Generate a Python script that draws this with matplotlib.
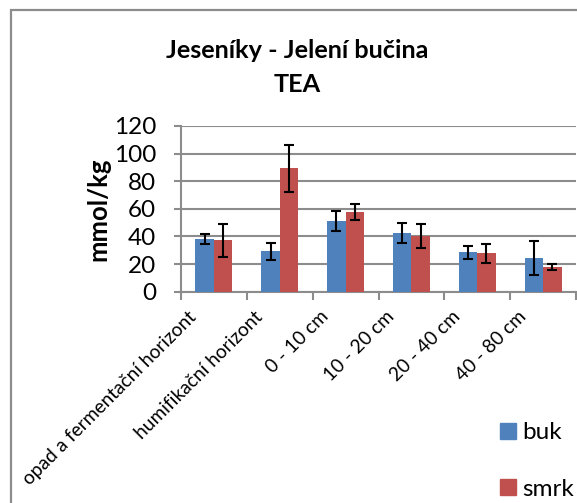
import matplotlib.pyplot as plt
import numpy as np
from matplotlib import rcParams
from matplotlib.patches import Rectangle, Patch
from matplotlib.transforms import ScaledTranslation

rcParams['font.family'] = ['Lato', 'DejaVu Sans']

categories = ['opad a fermentační horizont', 'humifikační horizont',
              '0 - 10 cm', '10 - 20 cm', '20 - 40 cm', '40 - 80 cm']
buk = [37.9, 29.2, 51.4, 42.5, 28.5, 24.4]
buk_err = [3.6, 6.1, 7.3, 7.0, 4.5, 12.2]
smrk = [37.2, 89.3, 57.7, 40.3, 27.8, 17.9]
smrk_err = [12.0, 17.2, 5.7, 8.8, 7.1, 2.5]

W, H = 577, 503
fig = plt.figure(figsize=(W / 100, H / 100), dpi=100)
ax = fig.add_axes([181 / W, 1 - 291.7 / H, 395 / W, 165.7 / H])

# outer chart border (cut off at the right and bottom like the original)
fig.patches.append(Rectangle((11 / W, -0.2), 1.2, 1.2 - 10 / H, transform=fig.transFigure,
                             fill=False, edgecolor='#8c8c8c', linewidth=1.6))

x = np.arange(len(categories))
bw = 0.28
ax.bar(x - bw / 2, buk, bw, color='#4F81BD', zorder=3, label='buk')
ax.bar(x + bw / 2, smrk, bw, color='#C0504D', zorder=3, label='smrk')
ax.errorbar(x - bw / 2, buk, yerr=buk_err, fmt='none', ecolor='black', elinewidth=1.5,
            capsize=3.8, capthick=1.5, zorder=4)
ax.errorbar(x + bw / 2, smrk, yerr=smrk_err, fmt='none', ecolor='black', elinewidth=1.5,
            capsize=3.8, capthick=1.5, zorder=4)

ax.set_xlim(-0.5, len(categories) - 0.5)
ax.set_ylim(0, 120)
ax.set_yticks(range(0, 121, 20))
ax.yaxis.grid(True, color='#8c8c8c', linewidth=1.5, zorder=0)
ax.set_axisbelow(True)

for s in ['top', 'right']:
    ax.spines[s].set_visible(False)
for s in ['left', 'bottom']:
    ax.spines[s].set_color('#8c8c8c')
    ax.spines[s].set_linewidth(1.5)

ax.tick_params(axis='y', labelsize=17.5, length=5, width=1.5, color='#8c8c8c', pad=13)
ax.set_xticks(x)
ax.set_xticklabels(categories, rotation=45, ha='right', va='center', rotation_mode='anchor', fontsize=13.8)
ax.tick_params(axis='x', which='major', length=0, pad=16)
ax.set_xticks(np.arange(-0.5, len(categories), 1), minor=True)
ax.tick_params(axis='x', which='minor', length=6, width=1.5, color='#8c8c8c')

# Excel puts the rotated labels a bit left of the category centre
shift = ScaledTranslation(-20 / 100, 0, fig.dpi_scale_trans)
for lab in ax.get_xticklabels():
    lab.set_transform(lab.get_transform() + shift)

ax.set_ylabel('mmol/kg', fontsize=18.5, fontweight='bold')
ax.yaxis.set_label_coords(-0.18, 0.5)

fig.text(297 / W, 1 - 50 / H, 'Jeseníky - Jelení bučina', ha='center', va='center',
         fontsize=18.2, fontweight='bold')
fig.text(297 / W, 1 - 84 / H, 'TEA', ha='center', va='center', fontsize=18.2, fontweight='bold')

handles = [Patch(color='#4F81BD', label='buk'), Patch(color='#C0504D', label='smrk')]
fig.legend(handles=handles, loc='center left', bbox_to_anchor=(500 / W, 1 - 461 / H),
           frameon=False, fontsize=17.5, handlelength=0.67, handleheight=0.67,
           handletextpad=0.25, labelspacing=1.45, borderpad=0, borderaxespad=0)

plt.savefig('out.png', dpi=100)
